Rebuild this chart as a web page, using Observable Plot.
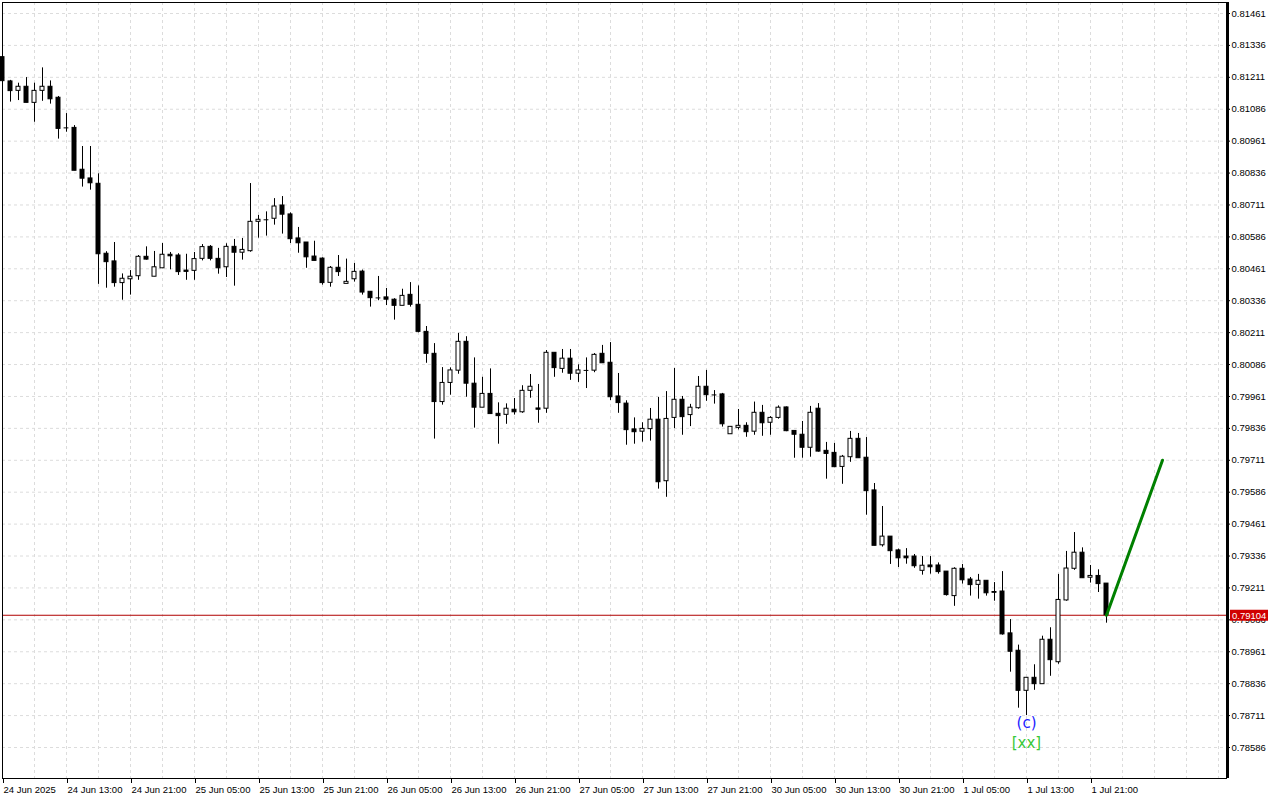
<!DOCTYPE html>
<html><head><meta charset="utf-8">
<script src="https://cdn.jsdelivr.net/npm/d3@7"></script>
<script src="https://cdn.jsdelivr.net/npm/@observablehq/plot@0.6"></script>
<style>
html,body{margin:0;padding:0;background:#fff;}
#chart svg{display:block}
</style></head><body><div id="chart"></div>
<script>
// Hourly candles, 24 Jun 2025 05:00 -> 1 Jul 2025 23:00 (bar index k)
const opens=[0.81290,0.81195,0.81158,0.81174,0.81111,0.81158,0.81174,0.81131,0.81013,0.81013,
0.80849,0.80815,0.80794,0.80520,0.80490,0.80405,0.80420,0.80432,0.80508,0.80430,
0.80463,0.80516,0.80513,0.80454,0.80453,0.80500,0.80547,0.80500,0.80467,0.80547,
0.80524,0.80530,0.80645,0.80653,0.80657,0.80709,0.80674,0.80580,0.80564,0.80509,
0.80501,0.80406,0.80465,0.80402,0.80420,0.80450,0.80371,0.80347,0.80349,0.80340,
0.80316,0.80359,0.80320,0.80214,0.80128,0.79939,0.80014,0.80062,0.80175,0.80011,
0.79917,0.79971,0.79893,0.79889,0.79909,0.79899,0.79983,0.79914,0.79913,0.80132,
0.80069,0.80109,0.80050,0.80063,0.80062,0.80128,0.80093,0.79961,0.79933,0.79832,
0.79823,0.79833,0.79870,0.79629,0.79877,0.79948,0.79888,0.79915,0.79999,0.79967,
0.79969,0.79813,0.79838,0.79846,0.79823,0.79897,0.79858,0.79877,0.79918,0.79826,
0.79811,0.79760,0.79913,0.79748,0.79740,0.79685,0.79723,0.79795,0.79721,0.79593,
0.79378,0.79412,0.79358,0.79334,0.79334,0.79278,0.79299,0.79299,0.79275,0.79179,
0.79286,0.79244,0.79223,0.79239,0.79195,0.79197,0.79033,0.78965,0.78808,0.78859,
0.78834,0.79008,0.78920,0.79162,0.79286,0.79349,0.79251,0.79258,0.79228];
const highs=[0.81293,0.81199,0.81188,0.81210,0.81188,0.81248,0.81197,0.81136,0.81069,0.81022,
0.80940,0.80940,0.80833,0.80528,0.80564,0.80441,0.80454,0.80513,0.80547,0.80529,
0.80560,0.80525,0.80520,0.80518,0.80525,0.80556,0.80552,0.80541,0.80559,0.80576,
0.80580,0.80795,0.80670,0.80684,0.80736,0.80744,0.80680,0.80623,0.80564,0.80569,
0.80504,0.80470,0.80513,0.80499,0.80482,0.80456,0.80372,0.80431,0.80384,0.80344,
0.80381,0.80407,0.80394,0.80235,0.80168,0.80074,0.80073,0.80208,0.80195,0.80112,
0.80036,0.80069,0.79936,0.79932,0.79953,0.80003,0.80047,0.80008,0.80141,0.80132,
0.80145,0.80145,0.80085,0.80112,0.80129,0.80161,0.80172,0.80051,0.79944,0.79877,
0.79858,0.79914,0.79957,0.79980,0.80071,0.79961,0.79930,0.80039,0.80063,0.79984,
0.79973,0.79842,0.79910,0.79858,0.79939,0.79926,0.79882,0.79924,0.79920,0.79826,
0.79863,0.79922,0.79933,0.79781,0.79777,0.79730,0.79824,0.79816,0.79800,0.79620,
0.79530,0.79412,0.79363,0.79365,0.79342,0.79334,0.79334,0.79309,0.79275,0.79290,
0.79303,0.79252,0.79264,0.79239,0.79232,0.79275,0.79087,0.78987,0.78859,0.78910,
0.79022,0.79055,0.79264,0.79354,0.79428,0.79368,0.79299,0.79282,0.79228];
const lows=[0.81195,0.81114,0.81120,0.81111,0.81035,0.81117,0.81106,0.80969,0.80996,0.80845,
0.80781,0.80769,0.80400,0.80385,0.80389,0.80338,0.80358,0.80416,0.80495,0.80430,
0.80463,0.80457,0.80435,0.80416,0.80416,0.80492,0.80492,0.80440,0.80427,0.80393,
0.80495,0.80526,0.80581,0.80589,0.80632,0.80597,0.80560,0.80522,0.80463,0.80492,
0.80397,0.80389,0.80431,0.80402,0.80409,0.80358,0.80311,0.80336,0.80317,0.80260,
0.80316,0.80311,0.80210,0.80091,0.79794,0.79927,0.79966,0.80048,0.79958,0.79837,
0.79917,0.79892,0.79774,0.79852,0.79888,0.79895,0.79954,0.79856,0.79895,0.80036,
0.80052,0.80024,0.80016,0.79992,0.80054,0.80091,0.79945,0.79895,0.79770,0.79774,
0.79782,0.79786,0.79598,0.79566,0.79835,0.79809,0.79843,0.79911,0.79942,0.79931,
0.79841,0.79813,0.79830,0.79801,0.79809,0.79805,0.79809,0.79872,0.79823,0.79719,
0.79719,0.79723,0.79743,0.79637,0.79682,0.79617,0.79703,0.79719,0.79496,0.79376,
0.79371,0.79303,0.79291,0.79304,0.79288,0.79261,0.79265,0.79265,0.79179,0.79139,
0.79226,0.79179,0.79167,0.79179,0.79159,0.79026,0.78881,0.78740,0.78711,0.78810,
0.78834,0.78865,0.78912,0.79159,0.79280,0.79249,0.79230,0.79193,0.79073];
const closes=[0.81196,0.81157,0.81174,0.81111,0.81158,0.81174,0.81125,0.81009,0.81013,0.80845,
0.80814,0.80796,0.80518,0.80487,0.80405,0.80422,0.80430,0.80508,0.80497,0.80467,
0.80516,0.80510,0.80448,0.80449,0.80499,0.80546,0.80500,0.80463,0.80547,0.80524,
0.80535,0.80645,0.80653,0.80653,0.80705,0.80673,0.80577,0.80561,0.80506,0.80492,
0.80405,0.80465,0.80448,0.80410,0.80449,0.80368,0.80346,0.80347,0.80340,0.80316,
0.80355,0.80320,0.80214,0.80128,0.79939,0.80014,0.80063,0.80175,0.80011,0.79917,
0.79971,0.79892,0.79884,0.79913,0.79899,0.79983,0.79999,0.79909,0.80132,0.80072,
0.80109,0.80050,0.80063,0.80063,0.80124,0.80091,0.79958,0.79935,0.79829,0.79821,
0.79834,0.79870,0.79625,0.79873,0.79948,0.79880,0.79917,0.79999,0.79966,0.79967,
0.79852,0.79842,0.79846,0.79821,0.79897,0.79856,0.79877,0.79917,0.79825,0.79811,
0.79760,0.79897,0.79745,0.79736,0.79684,0.79725,0.79795,0.79719,0.79590,0.79376,
0.79412,0.79355,0.79327,0.79327,0.79296,0.79298,0.79292,0.79273,0.79183,0.79286,
0.79241,0.79222,0.79239,0.79190,0.79192,0.79029,0.78961,0.78808,0.78859,0.78834,
0.79008,0.78928,0.79164,0.79287,0.79349,0.79249,0.79258,0.79226,0.79104];

const timeLabels=["24 Jun 2025","24 Jun 13:00","24 Jun 21:00","25 Jun 05:00","25 Jun 13:00","25 Jun 21:00",
"26 Jun 05:00","26 Jun 13:00","26 Jun 21:00","27 Jun 05:00","27 Jun 13:00","27 Jun 21:00",
"30 Jun 05:00","30 Jun 13:00","30 Jun 21:00","1 Jul 05:00","1 Jul 13:00","1 Jul 21:00"];
const timeLabelBars=[0,8,16,24,32,40,48,56,64,72,80,88,96,104,112,120,128,136];
const priceTicks=[0.78586,0.78711,0.78836,0.78961,0.79086,0.79211,0.79336,0.79461,0.79586,0.79711,0.79836,0.79961,
0.80086,0.80211,0.80336,0.80461,0.80586,0.80711,0.80836,0.80961,0.81086,0.81211,0.81336,0.81461];
const gridBars=d3.range(4,153,4);
const lastPrice=0.79104;
const projectionBars=[138,145];
const projectionPrices=[0.79104,0.79711];
const waveBar=128;
const waveLabels=["(c)","[xx]"];

const candles=opens.map((o,k)=>({k,o,h:highs[k],l:lows[k],c:closes[k]}));
const bodies=candles.filter(d=>Math.abs(d.c-d.o)>=0.00003);
const dojis=candles.filter(d=>Math.abs(d.c-d.o)<0.00003);
const projection=projectionBars.map((k,i)=>({k,v:projectionPrices[i]}));
const waveLow=[{k:waveBar,v:lows[waveBar]}];

const chart=Plot.plot({
  width:1280,height:800,
  marginLeft:2,marginRight:54,marginTop:2,marginBottom:22,
  style:{fontFamily:"'Liberation Sans', Arial, sans-serif",fontSize:"9.5px",background:"#fff",color:"#000"},
  x:{domain:[0,153]},
  y:{domain:[0.7846457,0.8150409]},
  marks:[
    Plot.ruleY(priceTicks,{stroke:"#dcdcdc",strokeDasharray:"3,3"}),
    Plot.ruleX(gridBars,{stroke:"#dcdcdc",strokeDasharray:"3,3"}),
    Plot.ruleY([lastPrice],{stroke:"#b00000"}),
    Plot.ruleX(candles,{x:"k",y1:"l",y2:"h",stroke:"#000"}),
    Plot.rect(bodies.filter(d=>d.c<d.o),{x1:d=>d.k-0.5,x2:d=>d.k+0.5,y1:"o",y2:"c",insetLeft:2,insetRight:2,fill:"#000",stroke:"#000"}),
    Plot.rect(bodies.filter(d=>d.c>=d.o),{x1:d=>d.k-0.5,x2:d=>d.k+0.5,y1:"o",y2:"c",insetLeft:2,insetRight:2,fill:"#fff",stroke:"#000"}),
    Plot.ruleY(dojis,{y:"o",x1:d=>d.k-0.3,x2:d=>d.k+0.3,stroke:"#000"}),
    Plot.line(projection,{x:"k",y:"v",stroke:"#008000",strokeWidth:3}),
    Plot.text(waveLow,{x:"k",y:"v",text:()=>waveLabels[0],dy:8,fill:"#1c1cff",fontSize:15,fontFamily:"'DejaVu Sans', sans-serif"}),
    Plot.text(waveLow,{x:"k",y:"v",text:()=>waveLabels[1],dy:28,fill:"#38c838",fontSize:15,fontFamily:"'DejaVu Sans', sans-serif"}),
    Plot.frame({stroke:"#000"}),
    Plot.ruleX([153],{stroke:"#000",strokeWidth:3,dx:1}),
    Plot.axisY({ticks:priceTicks,anchor:"right",tickFormat:d=>d.toFixed(5),tickSize:3,tickPadding:2,label:null,textAnchor:"start"}),
    Plot.axisX({ticks:timeLabelBars,anchor:"bottom",tickFormat:k=>timeLabels[timeLabelBars.indexOf(k)],tickSize:5,tickPadding:3,textAnchor:"start",dx:1,label:null})
  ]
});
document.getElementById("chart").appendChild(chart);

// current price tag on the right axis
const ys=chart.scale("y");
const xs=chart.scale("x");
const yp=ys.apply(lastPrice);
const xp=xs.apply(153);
const svg=d3.select(chart);
const tag=svg.append("g");
tag.append("rect").attr("x",xp+4).attr("y",yp-5).attr("width",38).attr("height",11).attr("fill","#d00000");
tag.append("text").attr("x",xp+6).attr("y",yp+4).attr("fill","#fff").attr("text-anchor","start")
  .attr("font-family","'Liberation Sans', Arial, sans-serif").attr("font-size","9.5px").text(lastPrice.toFixed(5));
</script></body></html>
